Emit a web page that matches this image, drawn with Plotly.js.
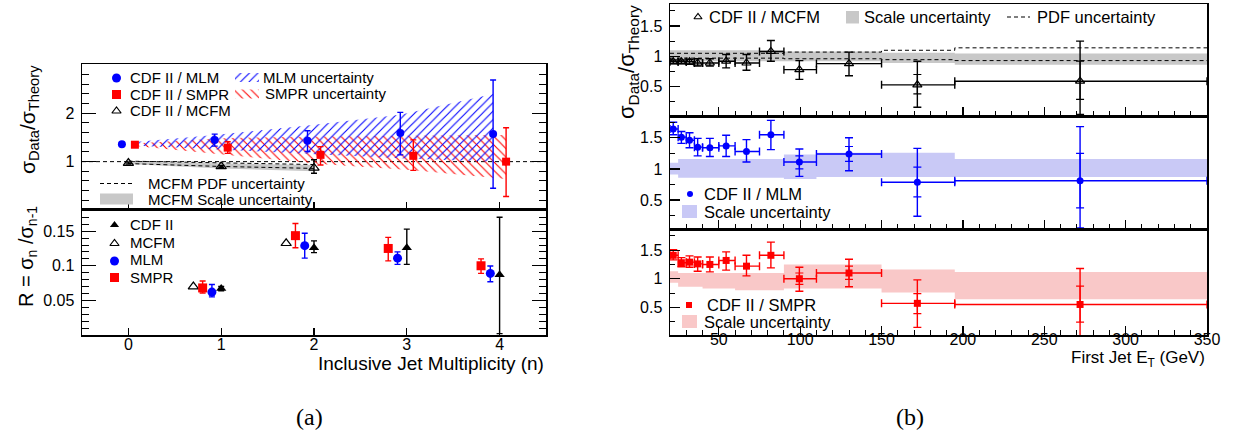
<!DOCTYPE html>
<html><head><meta charset="utf-8">
<script src="https://cdn.plot.ly/plotly-3.0.1.min.js"></script>
<style>html,body{margin:0;padding:0;background:#fff}#chart{width:1233px;height:435px}</style>
</head><body><div id="chart"></div>
<script>
// ===== Panel (a), upper: sigma_data / sigma_theory vs inclusive jet multiplicity =====
const nMLM        = [-0.07, 0.93, 1.93, 2.93, 3.93];
const ratioMLM    = [1.36, 1.45, 1.43, 1.59, 1.57];
const ratioMLMUp  = [1.38, 1.57, 1.64, 2.02, 2.69];
const ratioMLMDn  = [1.34, 1.32, 1.21, 1.14, 0.45];
const nSMPR       = [0.07, 1.07, 2.07, 3.07, 4.07];
const ratioSMPR   = [1.35, 1.29, 1.14, 1.12, 1.00];
const ratioSMPRUp = [1.37, 1.41, 1.31, 1.45, 1.70];
const ratioSMPRDn = [1.33, 1.17, 0.93, 0.82, 0.28];
const nMCFM       = [0, 1, 2];
const ratioMCFM   = [0.97, 0.90, 0.87];
const ratioMCFMUp = [0.99, 0.92, 1.04];
const ratioMCFMDn = [0.95, 0.88, 0.76];
const bandMLMn    = [0.10, 0.93, 1.93, 2.93, 3.93];
const bandMLMUp   = [1.41, 1.55, 1.75, 1.97, 2.40];
const bandMLMDn   = [1.33, 1.24, 1.16, 1.07, 1.00];
const bandSMPRn   = [0.10, 1.07, 2.07, 3.07, 4.07];
const bandSMPRUp  = [1.38, 1.49, 1.52, 1.53, 1.55];
const bandSMPRDn  = [1.32, 1.13, 0.95, 0.82, 0.64];
const bandMCFMn   = [0, 1, 2];
const scaleMCFMUp = [1.00, 0.96, 0.93];
const scaleMCFMDn = [0.95, 0.86, 0.80];
const pdfMCFMUp   = [1.01, 0.97, 0.94];
const pdfMCFMDn   = [0.96, 0.90, 0.86];
const unityLine   = 1;

// ===== Panel (a), lower: R = sigma_n / sigma_(n-1) =====
const nRcdf   = [1, 2, 3, 4];
const Rcdf    = [0.067, 0.126, 0.126, 0.087];
const RcdfUp  = [0.070, 0.136, 0.153, 0.170];
const RcdfDn  = [0.064, 0.119, 0.102, 0.002];
const nRmcfm  = [0.70, 1.70];
const Rmcfm   = [0.070, 0.1325];
const nRmlm   = [0.90, 1.90, 2.90, 3.90];
const Rmlm    = [0.062, 0.129, 0.111, 0.089];
const RmlmUp  = [0.073, 0.147, 0.120, 0.0996];
const RmlmDn  = [0.055, 0.111, 0.102, 0.077];
const nRsmpr  = [0.80, 1.80, 2.80, 3.80];
const Rsmpr   = [0.068, 0.1435, 0.125, 0.100];
const RsmprUp = [0.078, 0.161, 0.141, 0.110];
const RsmprDn = [0.0606, 0.126, 0.107, 0.089];
const multTicks = [0, 1, 2, 3, 4];

// ===== Panel (b): ratio vs first jet ET (GeV) =====
const etLo = [20, 25, 30, 35, 40, 50, 60, 75, 90, 110, 150, 195];
const etHi = [25, 30, 35, 40, 50, 60, 75, 90, 110, 150, 195, 350];
const etC  = [22, 27, 32, 37, 44.5, 54.5, 67, 82, 99.5, 130, 172, 272];
const etMCFM   = [0.91, 0.91, 0.91, 0.89, 0.89, 0.92, 0.89, 1.08, 0.78, 0.88, 0.53, 0.59];
const etMCFMUp = [0.94, 0.94, 0.95, 0.96, 0.96, 1.03, 1.03, 1.26, 0.93, 1.07, 0.92, 1.25];
const etMCFMDn = [0.88, 0.88, 0.87, 0.84, 0.84, 0.81, 0.77, 0.92, 0.62, 0.68, 0.16, 0.04];
const etMLM    = [1.64, 1.51, 1.46, 1.35, 1.34, 1.37, 1.28, 1.55, 1.11, 1.24, 0.785, 0.81];
const etMLMUp  = [1.75, 1.60, 1.58, 1.49, 1.49, 1.54, 1.47, 1.78, 1.32, 1.50, 1.33, 1.68];
const etMLMDn  = [1.55, 1.41, 1.34, 1.21, 1.20, 1.20, 1.11, 1.31, 0.88, 0.97, 0.24, 0.05];
const etSMPR   = [1.41, 1.28, 1.29, 1.26, 1.25, 1.32, 1.22, 1.41, 1.00, 1.10, 0.57, 0.55];
const etSMPRUp = [1.51, 1.37, 1.40, 1.38, 1.38, 1.47, 1.41, 1.64, 1.20, 1.34, 0.98, 1.18];
const etSMPRDn = [1.33, 1.21, 1.20, 1.13, 1.12, 1.15, 1.05, 1.19, 0.78, 0.86, 0.15, 0.00];
// inner (statistical) error ticks on the last points
const statMCFMidx = [10, 11];
const statMCFMUp  = [0.70, 0.92];
const statMCFMDn  = [0.38, 0.29];
const statMLMidx  = [8, 9, 10, 11];
const statMLMUp   = [1.21, 1.36, 1.03, 1.25];
const statMLMDn   = [1.00, 1.12, 0.55, 0.375];
const statSMPRidx = [8, 9, 10, 11];
const statSMPRUp  = [1.10, 1.22, 0.74, 0.87];
const statSMPRDn  = [0.90, 0.99, 0.39, 0.24];
// scale / PDF uncertainty bands (step functions over ET bins)
const mcfmEdges   = [20, 90, 150, 195, 350];
const mcfmScaleUp = [1.10, 1.08, 1.06, 1.045];
const mcfmScaleDn = [0.92, 0.92, 0.89, 0.86];
const mcfmPdfUp   = [1.05, 1.07, 1.10, 1.14];
const mcfmPdfDn   = [0.97, 0.96, 0.945, 0.93];
const mlmEdges    = [20, 25, 90, 110, 195, 350];
const mlmScaleUp  = [1.10, 1.16, 1.23, 1.26, 1.16];
const mlmScaleDn  = [0.91, 0.86, 0.84, 0.87, 0.87];
const smprEdges   = [20, 25, 40, 60, 90, 150, 195, 350];
const smprScaleUp = [1.13, 1.10, 1.10, 1.10, 1.25, 1.16, 1.12];
const smprScaleDn = [0.93, 0.86, 0.83, 0.80, 0.83, 0.76, 0.64];

// ===== helpers =====
const W = 1233, H = 435;
const fy = p => 1 - p / H, fx = p => p / W;
const BLUE = '#0000ff', RED = '#ff0000', BLK = '#000000';
const FONT = 'Liberation Sans, Arial, Helvetica, sans-serif';
const plus  = (v, c) => v.map((u, i) => u - c[i]);
const minus = (v, c) => v.map((d, i) => c[i] - d);

function pts(x, y, up, dn, ax, sym, color, size, capw, ex) {
  const t = {type: 'scatter', mode: 'markers', x, y, xaxis: ax[0], yaxis: ax[1],
    showlegend: false, hoverinfo: 'skip', cliponaxis: true,
    marker: {symbol: sym, color, size, line: {color, width: sym.includes('open') ? 1.2 : 0}}};
  if (up) t.error_y = {type: 'data', symmetric: false, array: plus(up, y), arrayminus: minus(dn, y),
    color, thickness: 1.4, width: capw};
  if (ex) t.error_x = {type: 'data', symmetric: false, array: plus(ex[1], x), arrayminus: minus(ex[0], x),
    color, thickness: 1.4, width: capw};
  return t;
}
function innerErr(idx, y, up, dn, ax, color) {
  const xs = idx.map(i => etC[i]), ys = idx.map(i => y[i]);
  return {type: 'scatter', mode: 'markers', x: xs, y: ys, xaxis: ax[0], yaxis: ax[1],
    showlegend: false, hoverinfo: 'skip', marker: {color: 'rgba(0,0,0,0)', size: 1},
    error_y: {type: 'data', symmetric: false, array: plus(up, ys), arrayminus: minus(dn, ys),
      color, thickness: 1.2, width: 4}};
}
function polyBand(xs, up, dn, ax, fill, pattern) {
  const t = {type: 'scatter', mode: 'lines', x: xs.concat(xs.slice().reverse()),
    y: up.concat(dn.slice().reverse()), xaxis: ax[0], yaxis: ax[1], fill: 'toself',
    fillcolor: fill, line: {width: 0}, showlegend: false, hoverinfo: 'skip'};
  if (pattern) t.fillpattern = pattern;
  return t;
}
function lineThru(xs, ys, ax, dash, shape) {
  return {type: 'scatter', mode: 'lines', x: xs, y: ys, xaxis: ax[0], yaxis: ax[1],
    line: {color: BLK, width: 1, dash, shape: shape || 'linear'}, showlegend: false, hoverinfo: 'skip'};
}
const stepY = v => v.concat([v[v.length - 1]]);
function stepBand(edges, up, dn, ax, color) {
  return [
    {type: 'scatter', mode: 'lines', x: edges, y: stepY(dn), xaxis: ax[0], yaxis: ax[1],
      line: {width: 0, shape: 'hv'}, showlegend: false, hoverinfo: 'skip'},
    {type: 'scatter', mode: 'lines', x: edges, y: stepY(up), xaxis: ax[0], yaxis: ax[1],
      line: {width: 0, shape: 'hv'}, fill: 'tonexty', fillcolor: color, showlegend: false, hoverinfo: 'skip'}
  ];
}
// legend keys are drawn on an invisible overlay axis in pixel coordinates
function keyMarker(x, y, sym, color, size) {
  return {type: 'scatter', mode: 'markers', x: [x], y: [y], xaxis: 'x6', yaxis: 'y6',
    showlegend: false, hoverinfo: 'skip',
    marker: {symbol: sym, color, size, line: {color, width: sym.includes('open') ? 1.2 : 0}}};
}
function keyRect(x0, x1, y0, y1, fill, pattern) {
  const t = {type: 'scatter', mode: 'lines', x: [x0, x1, x1, x0, x0], y: [y0, y0, y1, y1, y0],
    xaxis: 'x6', yaxis: 'y6', fill: 'toself', fillcolor: fill, line: {width: 0},
    showlegend: false, hoverinfo: 'skip'};
  if (pattern) t.fillpattern = pattern;
  return t;
}
function keyLine(x0, x1, y) {
  return {type: 'scatter', mode: 'lines', x: [x0, x1], y: [y, y], xaxis: 'x6', yaxis: 'y6',
    line: {color: BLK, width: 1.2, dash: '4px,3px'}, showlegend: false, hoverinfo: 'skip'};
}
const blueHatch = {shape: '/', fgcolor: BLUE, bgcolor: 'rgba(0,0,0,0)', size: 6, solidity: 0.18};
const redHatch  = {shape: '\\', fgcolor: RED, bgcolor: 'rgba(0,0,0,0)', size: 6, solidity: 0.18};
const GRAY = '#c8c8c8', LBLUE = '#c9c9f6', LRED = '#f9c8c8';

const traces = [];
// ---- (a) upper ----
const A1 = ['x', 'y'];
traces.push(polyBand(bandMCFMn, scaleMCFMUp, scaleMCFMDn, A1, GRAY));
traces.push(lineThru(bandMCFMn, pdfMCFMUp, A1, '4px,3px'));
traces.push(lineThru(bandMCFMn, pdfMCFMDn, A1, '4px,3px'));
traces.push(polyBand(bandSMPRn, bandSMPRUp, bandSMPRDn, A1, 'rgba(0,0,0,0)', redHatch));
traces.push(polyBand(bandMLMn, bandMLMUp, bandMLMDn, A1, 'rgba(0,0,0,0)', blueHatch));
traces.push(pts(nMCFM, ratioMCFM, ratioMCFMUp, ratioMCFMDn, A1, 'triangle-up-open', BLK, 9, 3));
traces.push(pts(nMLM, ratioMLM, ratioMLMUp, ratioMLMDn, A1, 'circle', BLUE, 8, 3));
traces.push(pts(nSMPR, ratioSMPR, ratioSMPRUp, ratioSMPRDn, A1, 'square', RED, 8, 3));
// ---- (a) lower ----
const A2 = ['x2', 'y2'];
traces.push(pts(nRmcfm, Rmcfm, null, null, A2, 'triangle-up-open', BLK, 9, 3));
traces.push(pts(nRcdf, Rcdf, RcdfUp, RcdfDn, A2, 'triangle-up', BLK, 9, 3));
traces.push(pts(nRmlm, Rmlm, RmlmUp, RmlmDn, A2, 'circle', BLUE, 9, 3));
traces.push(pts(nRsmpr, Rsmpr, RsmprUp, RsmprDn, A2, 'square', RED, 9, 3));
// ---- (b) top: MCFM ----
const B1 = ['x3', 'y3'];
traces.push(...stepBand(mcfmEdges, mcfmScaleUp, mcfmScaleDn, B1, GRAY));
traces.push(lineThru(mcfmEdges, stepY(mcfmPdfUp), B1, '4px,3px', 'hv'));
traces.push(lineThru(mcfmEdges, stepY(mcfmPdfDn), B1, '4px,3px', 'hv'));
traces.push(innerErr(statMCFMidx, etMCFM, statMCFMUp, statMCFMDn, B1, BLK));
traces.push(pts(etC, etMCFM, etMCFMUp, etMCFMDn, B1, 'triangle-up-open', BLK, 8, 4, [etLo, etHi]));
// ---- (b) middle: MLM ----
const B2 = ['x4', 'y4'];
traces.push(...stepBand(mlmEdges, mlmScaleUp, mlmScaleDn, B2, LBLUE));
traces.push(innerErr(statMLMidx, etMLM, statMLMUp, statMLMDn, B2, BLUE));
traces.push(pts(etC, etMLM, etMLMUp, etMLMDn, B2, 'circle', BLUE, 7, 4, [etLo, etHi]));
// ---- (b) bottom: SMPR ----
const B3 = ['x5', 'y5'];
traces.push(...stepBand(smprEdges, smprScaleUp, smprScaleDn, B3, LRED));
traces.push(innerErr(statSMPRidx, etSMPR, statSMPRUp, statSMPRDn, B3, RED));
traces.push(pts(etC, etSMPR, etSMPRUp, etSMPRDn, B3, 'square', RED, 7, 4, [etLo, etHi]));

// ---- legend keys ----
traces.push(keyMarker(116.5, 78, 'circle', BLUE, 9));
traces.push(keyMarker(116.5, 94.5, 'square', RED, 9));
traces.push(keyMarker(116.5, 111, 'triangle-up-open', BLK, 8));
traces.push(keyRect(235, 259, 73, 82, 'rgba(0,0,0,0)', blueHatch));
traces.push(keyRect(235, 259, 89.5, 98.5, 'rgba(0,0,0,0)', redHatch));
traces.push(keyLine(100, 133, 183.5));
traces.push(keyRect(100, 133, 193.5, 204.5, GRAY));
traces.push(keyMarker(114.5, 225, 'triangle-up', BLK, 8));
traces.push(keyMarker(114.5, 243.5, 'triangle-up-open', BLK, 8));
traces.push(keyMarker(114.5, 261, 'circle', BLUE, 9));
traces.push(keyMarker(114.5, 277.5, 'square', RED, 9));
traces.push(keyMarker(698, 17, 'triangle-up-open', BLK, 7));
traces.push(keyRect(846, 859, 11, 23.5, GRAY));
traces.push(keyLine(1007, 1030, 17));
traces.push(keyMarker(690, 194, 'circle', BLUE, 6));
traces.push(keyRect(682, 697, 205, 218, LBLUE));
traces.push(keyMarker(689, 305, 'square', RED, 6));
traces.push(keyRect(682, 697, 315, 328, LRED));

// ===== layout =====
const baseAx = {showline: true, linecolor: BLK, linewidth: 1.5, ticks: 'inside', tickcolor: BLK,
  tickwidth: 1.2, showgrid: false, zeroline: false, fixedrange: true,
  tickfont: {family: FONT, size: 16, color: BLK}};
const ax = o => Object.assign({}, baseAx, o);
const xA = {domain: [fx(82), fx(546)], range: [-0.5, 4.5], tickmode: 'array', tickvals: multTicks, ticklen: 7, mirror: true};
const xB = {domain: [fx(670), fx(1207)], range: [20, 350], tick0: 0, dtick: 50, ticklen: 9, mirror: true,
  minor: {dtick: 10, tick0: 0, ticklen: 5, ticks: 'inside', tickcolor: BLK, tickwidth: 1}};
const yB = (d, r) => ax({domain: d, range: r, tick0: 0, dtick: 0.5, ticklen: 10, mirror: true,
  ticklabelstandoff: 3,
  minor: {dtick: 0.25, tick0: 0, ticklen: 5, ticks: 'inside', tickcolor: BLK, tickwidth: 1}});

const annFont = s => ({family: FONT, size: s, color: BLK});
function txt(text, x, y, size, extra) {
  return Object.assign({text, x, y, xref: 'x6', yref: 'y6', showarrow: false, xanchor: 'left',
    yanchor: 'middle', font: annFont(size)}, extra || {});
}
const annotations = [
  txt('CDF II / MLM', 128, 77.5, 15), txt('CDF II / SMPR', 128, 94, 15), txt('CDF II / MCFM', 128, 110.5, 15),
  txt('MLM uncertainty', 261, 77, 15), txt('SMPR uncertainty', 263, 93.5, 15),
  txt('MCFM PDF uncertainty', 146, 183, 15), txt('MCFM Scale uncertainty', 146, 199.5, 15),
  txt('CDF II', 128, 224, 15), txt('MCFM', 128, 242.5, 15), txt('MLM', 128, 259.5, 15), txt('SMPR', 128, 277, 15),
  txt('CDF II / MCFM', 707, 17, 16.5), txt('Scale uncertainty', 862, 17, 16.5), txt('PDF uncertainty', 1035, 17, 16.5),
  txt('CDF II / MLM', 702, 194, 16.5), txt('Scale uncertainty', 702, 211.5, 16.5),
  txt('CDF II / SMPR', 705, 305, 16.5), txt('Scale uncertainty', 702, 321.5, 16.5),
  txt('σ<sub>Data</sub>/σ<sub>Theory</sub>', 29, 120, 21, {xanchor: 'center', textangle: -90}),
  txt('R = σ<sub>n</sub> /σ<sub>n-1</sub>', 27, 257, 20, {xanchor: 'center', textangle: -90}),
  txt('Inclusive Jet Multiplicity (n)', 546, 363, 19, {xanchor: 'right'}),
  txt('σ<sub>Data</sub>/σ<sub>Theory</sub>', 628, 62, 22, {xanchor: 'center', textangle: -90}),
  txt('First Jet E<sub>T</sub> (GeV)', 1207, 359, 17, {xanchor: 'right'}),
  txt('(a)', 309, 417, 24, {xanchor: 'center', font: {family: 'Liberation Serif, DejaVu Serif, serif', size: 24, color: BLK}}),
  txt('(b)', 910, 417, 24, {xanchor: 'center', font: {family: 'Liberation Serif, DejaVu Serif, serif', size: 24, color: BLK}})
];

const layout = {
  width: W, height: H, autosize: false, margin: {l: 0, r: 0, t: 0, b: 0, pad: 0},
  paper_bgcolor: '#ffffff', plot_bgcolor: 'rgba(0,0,0,0)', showlegend: false,
  font: {family: FONT, color: BLK},
  xaxis:  ax(Object.assign({}, xA, {anchor: 'y', showticklabels: false})),
  yaxis:  ax({domain: [fy(209), fy(64)], range: [0.02, 3.02], anchor: 'x', tickmode: 'array', tickvals: [1, 2],
    ticklen: 14, mirror: 'ticks', ticklabelstandoff: 3,
    minor: {dtick: 0.2, tick0: 0, ticklen: 7, ticks: 'inside', tickcolor: BLK, tickwidth: 1}}),
  xaxis2: ax(Object.assign({}, xA, {anchor: 'y2', ticklabelstandoff: -6})),
  yaxis2: ax({domain: [fy(335), fy(209)], range: [0, 0.182], anchor: 'x2', tickmode: 'array',
    tickvals: [0.05, 0.1, 0.15], ticklen: 14, mirror: 'ticks', ticklabelstandoff: 3,
    minor: {dtick: 0.01, tick0: 0, ticklen: 7, ticks: 'inside', tickcolor: BLK, tickwidth: 1}}),
  xaxis3: ax(Object.assign({}, xB, {anchor: 'y3', showticklabels: false})),
  yaxis3: Object.assign(yB([fy(116), fy(4)], [0.016, 1.863]), {anchor: 'x3'}),
  xaxis4: ax(Object.assign({}, xB, {anchor: 'y4', showticklabels: false})),
  yaxis4: Object.assign(yB([fy(229), fy(116)], [0.035, 1.85]), {anchor: 'x4'}),
  xaxis5: ax(Object.assign({}, xB, {anchor: 'y5', ticklabelstandoff: -11})),
  yaxis5: Object.assign(yB([fy(335), fy(229)], [0.016, 1.87]), {anchor: 'x5'}),
  xaxis6: {domain: [0, 1], range: [0, W], visible: false, fixedrange: true, anchor: 'y6'},
  yaxis6: {domain: [0, 1], range: [H, 0], visible: false, fixedrange: true, anchor: 'x6'},
  shapes: [{type: 'line', xref: 'x domain', yref: 'y', x0: 0, x1: 1, y0: unityLine, y1: unityLine,
    line: {color: BLK, width: 1, dash: '4px,3px'}, layer: 'below'}],
  annotations
};
Plotly.newPlot('chart', traces, layout, {staticPlot: true, displayModeBar: false});
</script></body></html>
